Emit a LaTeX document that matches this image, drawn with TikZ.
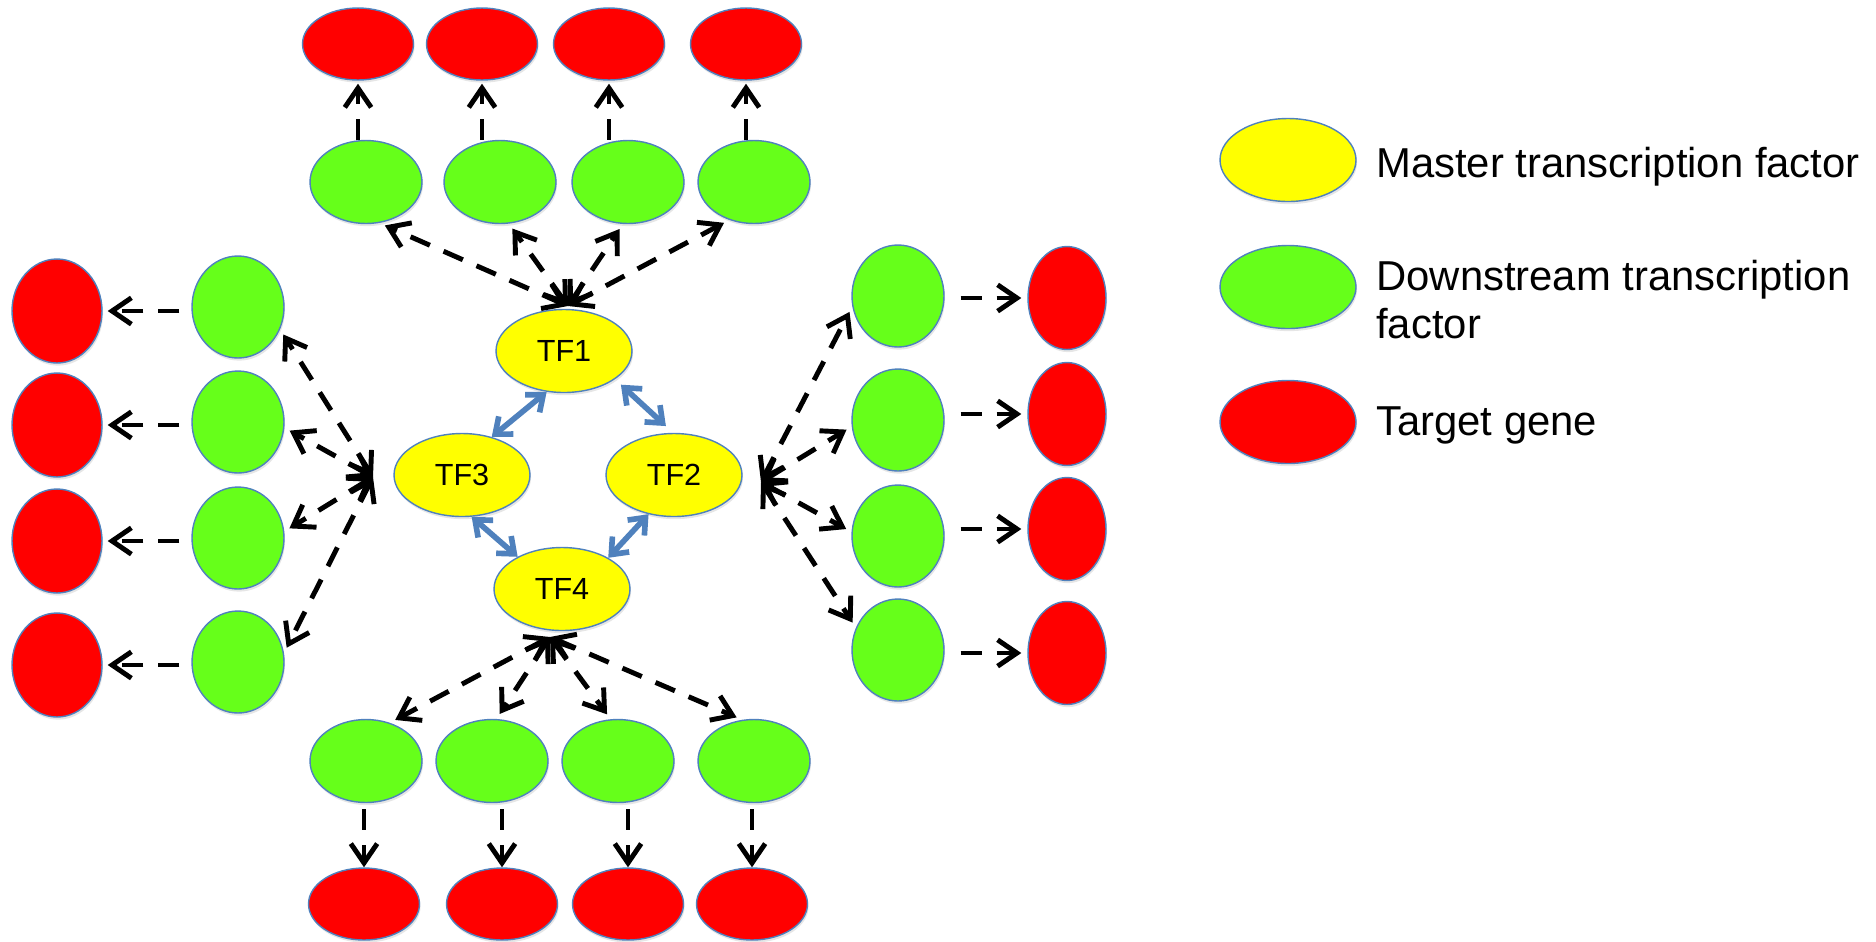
\documentclass[tikz,border=0pt]{standalone}
\usepackage{fontspec}
\setmainfont{Liberation Sans}
\usetikzlibrary{shapes.geometric,arrows.meta,shadows}
\definecolor{tfyellow}{RGB}{255,255,0}
\definecolor{dsgreen}{RGB}{102,255,26}
\definecolor{tgred}{RGB}{255,0,0}
\definecolor{rimblue}{RGB}{79,129,189}

\begin{document}
\begin{tikzpicture}[x=0.02cm, y=-0.02cm,
	blob/.style={ellipse, draw=rimblue, line width=0.8pt, inner sep=0pt,
		drop shadow={shadow xshift=0.6pt, shadow yshift=-1.5pt, opacity=0.2}},
	master/.style={blob, fill=tfyellow, minimum width=2.72cm, minimum height=1.66cm,
		font=\fontsize{17.4}{20}\selectfont},
	downTF/.style={blob, fill=dsgreen},
	target/.style={blob, fill=tgred},
	wide/.style={minimum width=2.24cm, minimum height=1.66cm},
	flat/.style={minimum width=2.22cm, minimum height=1.44cm},
	tall/.style={minimum width=1.84cm, minimum height=2.04cm},
	dasharrow/.style={line width=2.8pt, dash pattern=on 12pt off 8.5pt,
		-{Straight Barb[length=11pt,width=15pt]}},
	bothways/.style={dasharrow, {Straight Barb[length=11pt,width=15pt]}-{Straight Barb[length=11pt,width=15pt]}},
	tflink/.style={draw=rimblue, line width=3.2pt,
		{Straight Barb[length=8pt,width=13pt]}-{Straight Barb[length=8pt,width=13pt]}},
	legendtext/.style={anchor=base west, inner sep=0pt, align=left,
		font=\fontsize{23.8}{27.2}\selectfont}
	]
	\useasboundingbox (0,0) rectangle (1876,941);

	% master transcription factors
	\node[master] (tf1) at (564,351) {TF1};
	\node[master] (tf2) at (674,475) {TF2};
	\node[master] (tf3) at (462,475) {TF3};
	\node[master] (tf4) at (562,589) {TF4};
	\draw[tflink] (tf1.247) -- (tf3.52);
	\draw[tflink, shorten <=1.6mm, shorten >=2mm] (tf1.-29) -- (tf2.91);
	\draw[tflink] (tf3.-77) -- (tf4.144);
	\draw[tflink] (tf2.-123) -- (tf4.34);

	% top
	\coordinate (hubT) at (568,306);
	\foreach \i/\gx/\rx/\a in {1/366/358/-72, 2/500/482/-78, 3/628/609/-97, 4/754/746/-123} {
		\node[downTF, wide] (gt\i) at (\gx,182) {};
		\node[target, flat] (rt\i) at (\rx,44) {};
		\draw[dasharrow, shorten >=0.6mm] (gt\i.north -| rt\i) -- (rt\i.south);
		\draw[bothways, shorten >=1.2mm] (hubT) -- (gt\i.\a);
	}

	% left
	\coordinate (hubL) at (373,477);
	\foreach \i/\gy/\ry/\a in {1/307/311/-28, 2/422/425/-7, 3/538/541/8, 4/662/665/11.5} {
		\node[downTF, tall] (gl\i) at (238,\gy) {};
		\node[target, minimum width=1.8cm, minimum height=2.08cm] (rl\i) at (57,\ry) {};
		\draw[dasharrow, shorten <=2.4mm, shorten >=1mm] (gl\i.west |- rl\i) -- (rl\i.east);
		\draw[bothways, shorten >=1.2mm] (hubL) -- (gl\i.\a);
	}

	% right
	\coordinate (hubR) at (761,482);
	\foreach \i/\gy/\ry/\a in {1/296/298/193, 2/420/414/188, 3/536/529/175.5, 4/650/653/152} {
		\node[downTF, tall] (gr\i) at (898,\gy) {};
		\node[target, minimum width=1.56cm, minimum height=2.06cm] (rr\i) at (1067,\ry) {};
		\draw[dasharrow, shorten <=3.2mm, shorten >=1.2mm] (gr\i.east |- rr\i) -- (rr\i.west);
		\draw[bothways, shorten >=1.2mm] (hubR) -- (gr\i.\a);
	}

	% bottom
	\coordinate (hubB) at (550,637);
	\foreach \i/\gx/\rx/\a in {1/366/364/58, 2/492/502/84, 3/618/628/100, 4/754/752/106} {
		\node[downTF, wide] (gb\i) at (\gx,761) {};
		\node[target, flat] (rb\i) at (\rx,904) {};
		\draw[dasharrow, shorten <=1.2mm] (gb\i.south -| rb\i) -- (rb\i.north);
		\draw[bothways, shorten >=1.2mm] (hubB) -- (gb\i.\a);
	}

	% legend
	\node[master] (keyMaster) at (1288,160) {};
	\node[downTF, minimum width=2.72cm, minimum height=1.66cm] (keyDown) at (1288,287) {};
	\node[target, minimum width=2.72cm, minimum height=1.66cm] (keyTarget) at (1288,422) {};
	\node[legendtext] (txtMaster) at (1376,177) {Master transcription factor};
	\node[legendtext] (txtDown) at (1376,338) {Downstream transcription\\factor};
	\node[legendtext] (txtTarget) at (1376,435) {Target gene};
\end{tikzpicture}
\end{document}
